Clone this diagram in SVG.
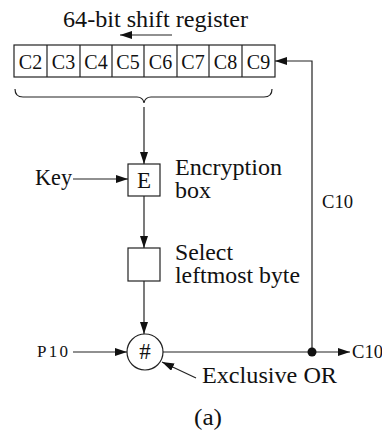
<svg xmlns="http://www.w3.org/2000/svg" width="382" height="433" viewBox="0 0 382 433">
<style>
text{font-family:"Liberation Serif","Times New Roman",serif;fill:#111}
.l{font-size:23px}
.s{font-size:18px}
.c{font-size:20px;text-anchor:middle}
.ln{stroke:#222;stroke-width:1.2;fill:none}
.bx{stroke:#222;stroke-width:1.2;fill:#fff}
</style>
<defs>
<marker id="ah" viewBox="0 0 12 8" refX="12" refY="4" markerWidth="12" markerHeight="8" markerUnits="userSpaceOnUse" orient="auto">
<path d="M0,0 L12,4 L0,8 Z" fill="#111"/>
</marker>
</defs>
<text class="l" x="63" y="27" textLength="185" lengthAdjust="spacingAndGlyphs">64-bit shift register</text>
<g id="register">
<rect class="bx" x="14" y="45" width="261" height="32"/>
<path class="ln" d="M47,45V77M80,45V77M112,45V77M144,45V77M177,45V77M209,45V77M242,45V77"/>
<text class="c" x="30.5" y="69">C2</text>
<text class="c" x="63.5" y="69">C3</text>
<text class="c" x="96" y="69">C4</text>
<text class="c" x="128" y="69">C5</text>
<text class="c" x="160.5" y="69">C6</text>
<text class="c" x="193" y="69">C7</text>
<text class="c" x="225.5" y="69">C8</text>
<text class="c" x="258.5" y="69">C9</text>
</g>
<g id="brace">
<path class="ln" d="M15,89 Q15,97 23,97 L137,97 Q143,97 144,103 Q145,97 151,97 L264,97 Q272,97 272,89"/>
</g>
<g id="ebox">
<rect class="bx" x="128" y="164" width="32" height="32"/>
<text class="l" x="144" y="188" text-anchor="middle">E</text>
<text class="l" x="175" y="175" textLength="107" lengthAdjust="spacingAndGlyphs">Encryption</text>
<text class="l" x="175" y="198" textLength="36" lengthAdjust="spacingAndGlyphs">box</text>
</g>
<g id="selectbox">
<rect class="bx" x="128" y="248" width="32" height="33"/>
<text class="l" x="175" y="260" textLength="58" lengthAdjust="spacingAndGlyphs">Select</text>
<text class="l" x="175" y="283" textLength="125" lengthAdjust="spacingAndGlyphs">leftmost byte</text>
</g>
<g id="xor">
<circle class="bx" cx="145" cy="352" r="18"/>
<text class="l" x="145" y="359" text-anchor="middle">#</text>
<text class="l" x="202" y="383" textLength="135" lengthAdjust="spacingAndGlyphs">Exclusive OR</text>
</g>
<g id="labels">
<text class="l" x="35" y="185" textLength="37" lengthAdjust="spacingAndGlyphs">Key</text>
<text class="s" x="37" y="357" textLength="31" lengthAdjust="spacing" style="font-size:17px">P10</text>
<text class="s" x="322" y="208" textLength="31" lengthAdjust="spacingAndGlyphs">C10</text>
<text class="s" x="352" y="358" textLength="31" lengthAdjust="spacingAndGlyphs">C10</text>
<text class="l" x="194" y="425" textLength="28" lengthAdjust="spacingAndGlyphs">(a)</text>
</g>
<g id="connectors">
<path class="ln" d="M172,35H120" marker-end="url(#ah)"/>
<path class="ln" d="M312,352V61H275" marker-end="url(#ah)"/>
<path class="ln" d="M144,107V164" marker-end="url(#ah)"/>
<path class="ln" d="M73,179H128" marker-end="url(#ah)"/>
<path class="ln" d="M144,196V248" marker-end="url(#ah)"/>
<path class="ln" d="M144,281V334" marker-end="url(#ah)"/>
<path class="ln" d="M73,352H127" marker-end="url(#ah)"/>
<path class="ln" d="M163,352H312"/>
<path class="ln" d="M312,352H350" marker-end="url(#ah)"/>
<circle cx="312" cy="352" r="4.5" fill="#111"/>
<path class="ln" d="M196,378L162,362" marker-end="url(#ah)"/>
</g>
</svg>
